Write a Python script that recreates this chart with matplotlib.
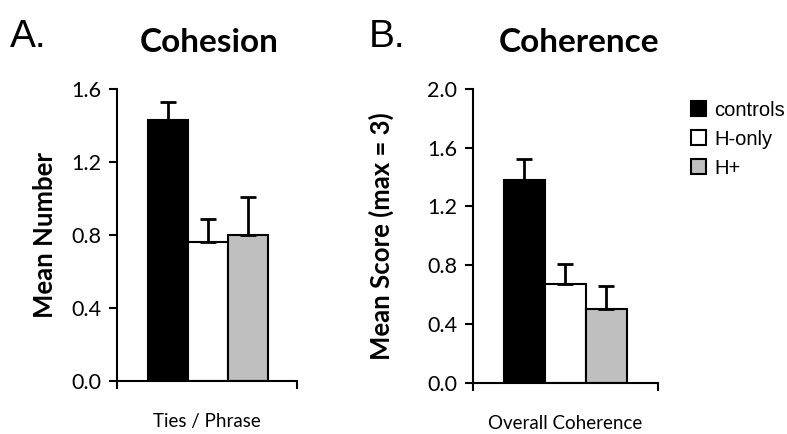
import matplotlib
matplotlib.use('Agg')
import matplotlib.pyplot as plt
from matplotlib.patches import Patch

# groups and values
groups = ['controls', 'H-only', 'H+']
colors = ['black', 'white', '#bfbfbf']

cohesion_mean = [1.43, 0.76, 0.80]
cohesion_err = [0.10, 0.13, 0.21]

coherence_mean = [1.38, 0.67, 0.50]
coherence_err = [0.14, 0.14, 0.16]

cal = ['Lato', 'DejaVu Sans']
ari = ['Liberation Sans', 'DejaVu Sans']

fig = plt.figure(figsize=(7.87, 4.34), dpi=100)

def panel(rect, means, errs, ymax, xlab, ylab, title, letter, lx, tx, xlim, ypad):
    ax = fig.add_axes(rect)
    x = list(range(len(means)))
    ax.bar(x, means, width=1.0, color=colors, edgecolor='black', linewidth=1.5,
           yerr=[[0] * len(errs), errs], capsize=6,
           error_kw=dict(elinewidth=2, capthick=2, ecolor='black'), zorder=2)
    ax.set_xlim(*xlim)
    ax.set_ylim(0, ymax)
    n = int(round(ymax / 0.4)) + 1
    ax.set_yticks([i * 0.4 for i in range(n)])
    ax.set_yticklabels([f'{i * 0.4:.1f}' for i in range(n)], family=cal, fontsize=15.5)
    ax.set_xticks(list(xlim))
    ax.set_xticklabels(['', ''])
    ax.tick_params(axis='both', direction='out', length=6, width=1.5, pad=5)
    for s in ['top', 'right']:
        ax.spines[s].set_visible(False)
    for s in ['left', 'bottom']:
        ax.spines[s].set_linewidth(1.5)
    ax.set_xlabel(xlab, family=cal, fontsize=13.5, labelpad=12)
    ax.set_ylabel(ylab, family=cal, fontsize=18.5, fontweight='bold', labelpad=ypad)
    fig.text(tx, 0.902, title, family=cal, fontsize=24, fontweight='bold',
             ha='center', va='center')
    fig.text(lx, 0.915, letter, family=ari, fontsize=28, ha='left', va='center')
    return ax

panel([0.1483, 0.1221, 0.2287, 0.6728], cohesion_mean, cohesion_err, 1.6,
      'Ties / Phrase', 'Mean Number', 'Cohesion', 'A.', 0.012, 0.266, (-1.27, 3.23), 10)
panel([0.6006, 0.1182, 0.2358, 0.6767], coherence_mean, coherence_err, 2.0,
      'Overall Coherence', 'Mean Score (max = 3)', 'Coherence', 'B.', 0.468, 0.736, (-1.26, 3.27), 24)

handles = [Patch(facecolor=c, edgecolor='black', linewidth=1.5) for c in colors]
fig.legend(handles, groups, loc='upper left', bbox_to_anchor=(0.855, 0.81),
           frameon=False, prop={'family': ari, 'size': 14.5},
           handlelength=0.75, handleheight=0.75, handletextpad=0.4, labelspacing=0.5)

fig.savefig('out.png', dpi=100)
